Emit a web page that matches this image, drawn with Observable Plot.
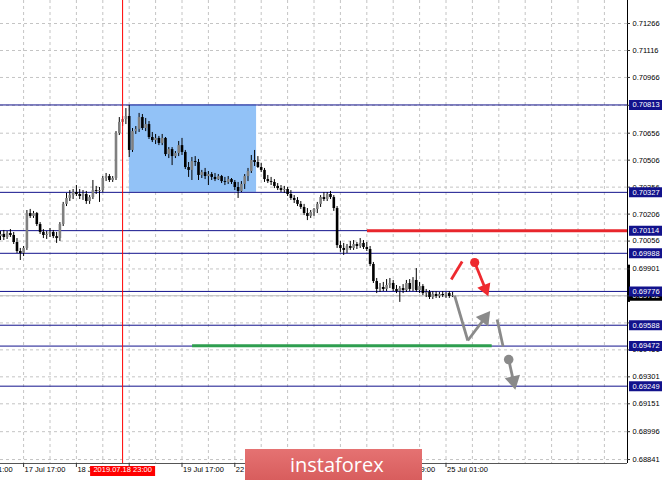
<!DOCTYPE html>
<html>
<head>
<meta charset="utf-8">
<script src="https://cdn.jsdelivr.net/npm/d3@7"></script>
<script src="https://cdn.jsdelivr.net/npm/@observablehq/plot@0.6"></script>
<style>
  html, body { margin: 0; padding: 0; background: #fff; overflow: hidden; }
  #wrap { position: relative; width: 665px; height: 480px; overflow: hidden; }
  #brand {
    position: absolute; left: 245px; top: 449px; width: 177px; height: 36px;
    background: linear-gradient(#e57272, #d65a5a);
    color: #fff; font-family: "Open Sans", sans-serif; font-size: 20px;
    line-height: 31px; padding-left: 45px; box-sizing: border-box;
  }
</style>
</head>
<body>
<div id="wrap"><div id="brand">instaforex</div></div>
<script>
// AUDUSD H1 candles, bar 0 = 17 Jul 10:00 ... bar 137 = 25 Jul 03:00
const open = [
  0.70081,0.70093,0.70076,0.70098,0.70087,0.70048,0.69998,0.69987,0.70015,0.70209,
  0.70193,0.70209,0.70148,0.70104,0.70087,0.70093,0.70104,0.70081,0.70070,0.70148,
  0.70260,0.70293,0.70309,0.70326,0.70315,0.70304,0.70315,0.70276,0.70298,0.70337,
  0.70332,0.70337,0.70404,0.70415,0.70393,0.70404,0.70654,0.70716,0.70732,0.70749,
  0.70560,0.70665,0.70677,0.70743,0.70682,0.70704,0.70632,0.70615,0.70627,0.70599,
  0.70627,0.70537,0.70565,0.70526,0.70543,0.70587,0.70549,0.70465,0.70449,0.70498,
  0.70493,0.70421,0.70437,0.70415,0.70426,0.70410,0.70398,0.70415,0.70387,0.70382,
  0.70398,0.70382,0.70354,0.70332,0.70371,0.70415,0.70443,0.70504,0.70493,0.70465,
  0.70449,0.70398,0.70387,0.70382,0.70360,0.70348,0.70337,0.70343,0.70315,0.70293,
  0.70282,0.70260,0.70243,0.70209,0.70193,0.70215,0.70232,0.70260,0.70298,0.70287,
  0.70315,0.70298,0.70237,0.70031,0.70015,0.70004,0.70026,0.70015,0.70037,0.70026,
  0.70043,0.70020,0.70009,0.69926,0.69831,0.69787,0.69798,0.69787,0.69809,0.69820,
  0.69787,0.69775,0.69792,0.69781,0.69820,0.69787,0.69837,0.69781,0.69803,0.69764,
  0.69770,0.69742,0.69759,0.69748,0.69759,0.69753,0.69764,0.69748
];
const high = [
  0.70109,0.70115,0.70109,0.70120,0.70104,0.70070,0.70015,0.70026,0.70226,0.70232,
  0.70221,0.70215,0.70159,0.70120,0.70109,0.70126,0.70115,0.70104,0.70159,0.70271,
  0.70321,0.70337,0.70343,0.70365,0.70343,0.70337,0.70332,0.70309,0.70393,0.70360,
  0.70354,0.70415,0.70432,0.70426,0.70415,0.70665,0.70743,0.70749,0.70793,0.70810,
  0.70682,0.70693,0.70766,0.70760,0.70738,0.70721,0.70660,0.70649,0.70638,0.70649,
  0.70632,0.70576,0.70576,0.70554,0.70610,0.70627,0.70560,0.70493,0.70521,0.70526,
  0.70510,0.70449,0.70460,0.70443,0.70437,0.70432,0.70426,0.70421,0.70410,0.70415,
  0.70404,0.70393,0.70382,0.70387,0.70426,0.70460,0.70532,0.70560,0.70526,0.70487,
  0.70460,0.70421,0.70410,0.70398,0.70376,0.70365,0.70360,0.70354,0.70337,0.70309,
  0.70298,0.70276,0.70260,0.70237,0.70226,0.70237,0.70271,0.70309,0.70326,0.70326,
  0.70332,0.70309,0.70248,0.70054,0.70043,0.70037,0.70054,0.70059,0.70048,0.70070,
  0.70059,0.70048,0.70026,0.69937,0.69848,0.69820,0.69826,0.69842,0.69848,0.69837,
  0.69809,0.69803,0.69814,0.69837,0.69842,0.69853,0.69903,0.69826,0.69814,0.69787,
  0.69781,0.69775,0.69775,0.69770,0.69775,0.69770,0.69775,0.69770
];
const low = [
  0.70059,0.70059,0.70065,0.70076,0.70037,0.69987,0.69948,0.69970,0.70004,0.70182,
  0.70182,0.70137,0.70093,0.70070,0.70065,0.70076,0.70070,0.70043,0.70054,0.70137,
  0.70248,0.70276,0.70287,0.70304,0.70287,0.70282,0.70260,0.70260,0.70287,0.70315,
  0.70271,0.70326,0.70387,0.70382,0.70382,0.70393,0.70643,0.70693,0.70704,0.70521,
  0.70549,0.70649,0.70660,0.70671,0.70665,0.70621,0.70604,0.70593,0.70587,0.70587,
  0.70526,0.70515,0.70476,0.70515,0.70526,0.70532,0.70454,0.70410,0.70393,0.70471,
  0.70393,0.70404,0.70398,0.70365,0.70393,0.70387,0.70393,0.70376,0.70365,0.70371,
  0.70371,0.70337,0.70293,0.70326,0.70343,0.70387,0.70432,0.70471,0.70460,0.70437,
  0.70382,0.70376,0.70365,0.70348,0.70337,0.70326,0.70321,0.70304,0.70282,0.70265,
  0.70248,0.70232,0.70198,0.70170,0.70182,0.70193,0.70209,0.70243,0.70276,0.70276,
  0.70287,0.70221,0.70015,0.69993,0.69976,0.69987,0.70004,0.70004,0.70009,0.70015,
  0.70009,0.69998,0.69914,0.69820,0.69764,0.69770,0.69775,0.69775,0.69792,0.69775,
  0.69764,0.69715,0.69764,0.69770,0.69775,0.69775,0.69770,0.69764,0.69753,0.69742,
  0.69731,0.69731,0.69737,0.69737,0.69742,0.69737,0.69737,0.69742
];
const close = [
  0.70093,0.70076,0.70098,0.70087,0.70048,0.69998,0.69987,0.70015,0.70209,0.70193,
  0.70209,0.70148,0.70104,0.70087,0.70093,0.70104,0.70081,0.70070,0.70148,0.70260,
  0.70293,0.70309,0.70326,0.70315,0.70304,0.70315,0.70276,0.70298,0.70337,0.70332,
  0.70337,0.70404,0.70415,0.70393,0.70404,0.70654,0.70716,0.70732,0.70749,0.70560,
  0.70665,0.70677,0.70743,0.70682,0.70704,0.70632,0.70615,0.70627,0.70599,0.70627,
  0.70537,0.70565,0.70526,0.70543,0.70587,0.70549,0.70465,0.70449,0.70498,0.70493,
  0.70421,0.70437,0.70415,0.70426,0.70410,0.70398,0.70415,0.70387,0.70382,0.70398,
  0.70382,0.70354,0.70332,0.70371,0.70415,0.70443,0.70504,0.70493,0.70465,0.70449,
  0.70398,0.70387,0.70382,0.70360,0.70348,0.70337,0.70343,0.70315,0.70293,0.70282,
  0.70260,0.70243,0.70209,0.70193,0.70215,0.70232,0.70260,0.70298,0.70287,0.70315,
  0.70298,0.70237,0.70031,0.70015,0.70004,0.70026,0.70015,0.70037,0.70026,0.70043,
  0.70020,0.70009,0.69926,0.69831,0.69787,0.69798,0.69787,0.69809,0.69820,0.69787,
  0.69775,0.69792,0.69781,0.69820,0.69787,0.69837,0.69781,0.69803,0.69764,0.69770,
  0.69742,0.69759,0.69748,0.69759,0.69753,0.69764,0.69748,0.69752
];

// price scale: grid values, and the labels left uncovered by the level tags
const priceGrid = [0.71266,0.71116,0.70966,0.70811,0.70656,0.70506,0.70356,0.70206,
  0.70056,0.69901,0.69751,0.69601,0.69451,0.69301,0.69151,0.68996,0.68841];
const priceLabels = [0.71266,0.71116,0.70966,0.70656,0.70506,0.70356,0.70206,
  0.70056,0.69901,0.69451,0.69301,0.69151,0.68996,0.68841];
// horizontal support / resistance levels
const levels = [0.70813,0.70327,0.70114,0.69988,0.69776,0.69588,0.69472,0.69249];
const lastPrice = 0.69752;

// time scale ticks (bar index) and the labels that stay visible
const timeTickBars = [7,23,39,55,71,87,103,119,135];
const timeLabelBars = [-9,7,23,55,71,119,135];
const timeLabels = ["17 Jul 01:00","17 Jul 17:00","18 Jul 09:00","19 Jul 17:00",
  "22 Jul 09:00","24 Jul 09:00","25 Jul 01:00"];
const cursorBar = 37, cursorLabel = "2019.07.18 23:00";

// consolidation box
const zone = [{x1: 39.1, x2: 77.6, y1: 0.70327, y2: 0.70813}];
// drawn trend segments
const redLevel = [{x1: 111.2, x2: 190, y: 0.70114}];
const greenLevel = [{x1: 58.2, x2: 149, y: 0.69474}];
const strokes = [
  {x1: 136.6, y1: 0.69842, x2: 139.9, y2: 0.69942, color: "#ee2a2f"},
  {x1: 137.6, y1: 0.69753, x2: 141.6, y2: 0.69503, color: "#8a8a8a"},
  {x1: 150.5, y1: 0.69620, x2: 152.3, y2: 0.69470, color: "#8a8a8a"}
];
const arrows = [
  {x1: 143.7, y1: 0.69937, x2: 147.5, y2: 0.69764, color: "#ee2a2f", head: 5.2},
  {x1: 141.6, y1: 0.69503, x2: 147.8, y2: 0.69653, color: "#8a8a8a", head: 5.8},
  {x1: 154.0, y1: 0.69397, x2: 155.8, y2: 0.69247, color: "#8a8a8a", head: 5.8}
];
const redPin = [{x: 143.7, y: 0.69937}];
const grayPin = [{x: 154.0, y: 0.69397}];
const spreadBar = [{y1: 0.69922, y2: 0.69715}];

// layout
const W = 665, H = 480, mR = 38, mB = 17;
const xDomain = [0, 190];
const yDomain = [0.68819, 0.71394];
const kx = (W - mR) / (xDomain[1] - xDomain[0]);
const ky = (H - mB) / (yDomain[1] - yDomain[0]);

const candles = close.map((c, i) => ({i, o: open[i], h: high[i], l: low[i], c}));
const timeTicks = timeLabelBars.map((b, k) => ({bar: b, label: timeLabels[k]}));

// arrow heads: triangle centred just behind the tip, rotated along the shaft in pixel space
const heads = arrows.map(a => {
  const dx = (a.x2 - a.x1) * kx, dy = -(a.y2 - a.y1) * ky, len = Math.hypot(dx, dy), back = a.head;
  return {
    x: a.x2 - dx / len * back / kx,
    y: a.y2 + dy / len * back / ky,
    rotate: Math.atan2(dx, -dy) * 180 / Math.PI,
    color: a.color, head: a.head, x1: a.x1, y1: a.y1
  };
});

const navy = "#12128c";
const font = "'Liberation Sans', Arial, sans-serif";

const chart = Plot.plot({
  width: W, height: H,
  marginLeft: 0, marginRight: mR, marginTop: 0, marginBottom: mB,
  x: {domain: xDomain, axis: null},
  y: {domain: yDomain, axis: null},
  style: {background: "#fff", fontFamily: font},
  marks: [
    // grid
    Plot.ruleY(priceGrid, {stroke: "#c4c4c4", strokeDasharray: "3,3"}),
    Plot.ruleX(d3.range(7, 190, 8), {stroke: "#c4c4c4", strokeDasharray: "3,3"}),
    // zone
    Plot.rect(zone, {x1: "x1", x2: "x2", y1: "y1", y2: "y2", fill: "#92c2f7"}),
    // levels
    Plot.ruleY([lastPrice], {stroke: "#bdbdbd"}),
    Plot.ruleY(levels, {stroke: navy}),
    // candles
    Plot.ruleX(candles, {x: "i", y1: "l", y2: "h", stroke: "#000", strokeWidth: 1}),
    Plot.ruleX(candles, {x: "i", y1: "o", y2: "c", strokeWidth: 2.6,
      stroke: d => d.c >= d.o ? "#808080" : "#000"}),
    // cursor
    Plot.ruleX([cursorBar], {stroke: "#ff0000"}),
    // drawn levels
    Plot.ruleY(redLevel, {y: "y", x1: "x1", x2: "x2", stroke: "#e8262c", strokeWidth: 3}),
    Plot.ruleY(greenLevel, {y: "y", x1: "x1", x2: "x2", stroke: "#2e9e4f", strokeWidth: 3}),
    // scenario sketch
    Plot.link(strokes, {x1: "x1", y1: "y1", x2: "x2", y2: "y2", stroke: "color", strokeWidth: 2.8}),
    Plot.link(heads, {x1: "x1", y1: "y1", x2: "x", y2: "y", stroke: "color", strokeWidth: 2.8}),
    Plot.dot(heads.filter(h => h.head === 5.2), {x: "x", y: "y", rotate: "rotate", symbol: "triangle", r: 5.2, fill: "color", stroke: null}),
    Plot.dot(heads.filter(h => h.head === 5.8), {x: "x", y: "y", rotate: "rotate", symbol: "triangle", r: 5.8, fill: "color", stroke: null}),
    Plot.dot(redPin, {x: "x", y: "y", r: 4.6, fill: "#ee2a2f", stroke: null}),
    Plot.dot(grayPin, {x: "x", y: "y", r: 4.8, fill: "#8a8a8a", stroke: null}),
    // axes
    Plot.ruleY([yDomain[0]], {stroke: "#555"}),
    Plot.ruleX([xDomain[1]], {stroke: "#000"}),
    Plot.ruleX(spreadBar, {x: xDomain[1], y1: "y1", y2: "y2", stroke: "#000", strokeWidth: 3, dx: 1}),
    Plot.tickY(priceGrid, {y: d => d, stroke: "#333", insetLeft: W - mR, insetRight: -3}),
    Plot.text(priceLabels, {y: d => d, frameAnchor: "right", dx: 5, textAnchor: "start",
      text: d => d.toFixed(5), fontSize: 7.5, fill: "#000"}),
    Plot.tickY([lastPrice], {y: d => d, stroke: "#000", strokeWidth: 10, insetLeft: W - mR + 2, insetRight: -35}),
    Plot.text([lastPrice], {y: d => d, frameAnchor: "right", dx: 5, textAnchor: "start",
      text: d => d.toFixed(5), fontSize: 7.5, fill: "#fff"}),
    Plot.tickY(levels, {y: d => d, stroke: navy, strokeWidth: 10, insetLeft: W - mR + 2, insetRight: -35}),
    Plot.text(levels, {y: d => d, frameAnchor: "right", dx: 5, textAnchor: "start",
      text: d => d.toFixed(5), fontSize: 7.5, fill: "#fff"}),
    Plot.tickX(timeTickBars, {x: d => d, stroke: "#333", insetTop: H - mB, insetBottom: -4}),
    Plot.text(timeTicks, {x: "bar", text: "label", frameAnchor: "bottom", dy: 8, dx: 1,
      textAnchor: "start", fontSize: 7.5, fill: "#000"}),
    Plot.tickX([cursorBar], {x: d => d, stroke: "#ff0000", strokeWidth: 65, insetTop: H - mB + 3, insetBottom: -13}),
    Plot.text([cursorLabel], {x: cursorBar, text: d => d, frameAnchor: "bottom", dy: 8,
      fontSize: 7.5, fill: "#fff"})
  ]
});

const wrap = document.getElementById("wrap");
wrap.insertBefore(chart, document.getElementById("brand"));
</script>
</body>
</html>
